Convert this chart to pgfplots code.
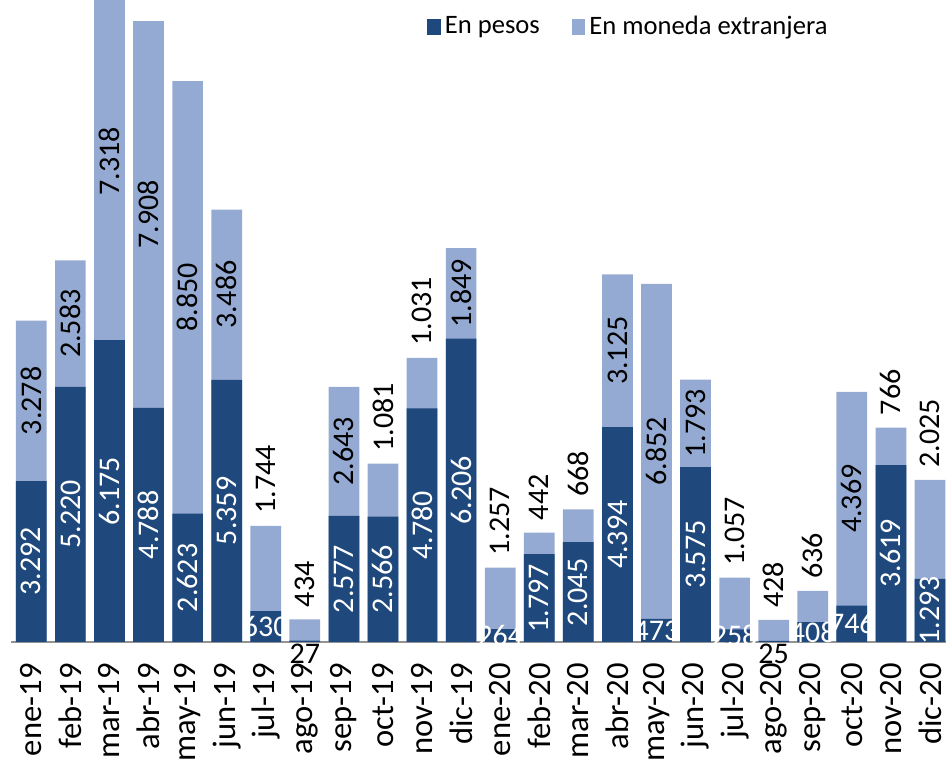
\documentclass[border=0pt]{standalone}
\usepackage{fontspec}
\setmainfont{Carlito}
\usepackage{pgfplots}
\usepackage{pgfplotstable}
\pgfplotsset{compat=1.18}
\definecolor{pesos}{RGB}{31,73,125}
\definecolor{extr}{RGB}{149,170,211}

\pgfplotsset{
  lbl/.style={forget plot, only marks, mark=*, mark size=0pt,
    mark options={draw=none, fill=none},
    point meta=explicit symbolic, nodes near coords},
}

\pgfplotstableread{
x pesos ext mes
0 3292 3278 ene-19
1 5220 2583 feb-19
2 6175 7318 mar-19
3 4788 7908 abr-19
4 2623 8850 may-19
5 5359 3486 jun-19
6 630 1744 jul-19
7 27 434 ago-19
8 2577 2643 sep-19
9 2566 1081 oct-19
10 4780 1031 nov-19
11 6206 1849 dic-19
12 264 1257 ene-20
13 1797 442 feb-20
14 2045 668 mar-20
15 4394 3125 abr-20
16 473 6852 may-20
17 3575 1793 jun-20
18 258 1057 jul-20
19 25 428 ago-20
20 408 636 sep-20
21 746 4369 oct-20
22 3619 766 nov-20
23 1293 2025 dic-20
}\datatable

% label groups
\pgfplotstableread{
x pesos lab
0 3292 3.292
1 5220 5.220
2 6175 6.175
3 4788 4.788
4 2623 2.623
5 5359 5.359
8 2577 2.577
9 2566 2.566
10 4780 4.780
11 6206 6.206
13 1797 1.797
14 2045 2.045
15 4394 4.394
17 3575 3.575
22 3619 3.619
23 1293 1.293
}\pesosrot
\pgfplotstableread{
x pesos lab
6 630 630
12 264 264
16 473 473
18 258 258
20 408 408
21 746 746
}\pesoshor
\pgfplotstableread{
x pesos lab
7 27 27
19 25 25
}\pesosbelow
\pgfplotstableread{
x pesos ext lab
0 3292 3278 3.278
1 5220 2583 2.583
2 6175 7318 7.318
3 4788 7908 7.908
4 2623 8850 8.850
5 5359 3486 3.486
8 2577 2643 2.643
11 6206 1849 1.849
15 4394 3125 3.125
16 473 6852 6.852
17 3575 1793 1.793
21 746 4369 4.369
}\extin
\pgfplotstableread{
x pesos ext lab
6 630 1744 1.744
7 27 434 434
9 2566 1081 1.081
10 4780 1031 1.031
12 264 1257 1.257
13 1797 442 442
14 2045 668 668
18 258 1057 1.057
19 25 428 428
20 408 636 636
22 3619 766 766
23 1293 2025 2.025
}\extabove

\newcommand{\lblfont}{\fontsize{15}{18}\selectfont}

\begin{document}
\begin{tikzpicture}
\path[use as bounding box] (-5.5pt,-61pt) rectangle (470.5pt,321pt);
\begin{axis}[
  at={(0,0)}, anchor=south west,
  scale only axis, width=467.5pt, height=321pt,
  xmin=-0.52, xmax=23.41, ymin=0, ymax=13130,
  axis x line*=bottom, axis y line=none,
  x axis line style={-, draw=gray!85, line width=0.7pt},
  xtick=\empty,
  major tick length=0pt,
  clip=false,
  legend columns=2,
  legend style={draw=none, fill=none, at={(0.878,0.958)}, anchor=east,
    font=\fontsize{13.3}{15}\selectfont, inner sep=0pt,
    /tikz/every even column/.append style={column sep=14pt}},
  legend image code/.code={\fill[#1] (-1pt,-3.8pt) rectangle (5.8pt,4.2pt);},
]
% total bars (light) then pesos bars (dark) on top
\addplot[forget plot, ybar, bar shift=0pt, bar width=0.786, fill=extr, draw=none]
  table[x=x, y expr=\thisrow{pesos}+\thisrow{ext}] {\datatable};
\addplot[forget plot, ybar, bar shift=0pt, bar width=0.786, fill=pesos, draw=none]
  table[x=x, y=pesos] {\datatable};
\addlegendimage{fill=pesos, draw=none}
\addlegendentry{En pesos}
\addlegendimage{fill=extr, draw=none}
\addlegendentry{En moneda extranjera}

% category labels under the axis (placed at a fixed depth below the baseline)
\addplot[lbl,
  every node near coord/.append style={rotate=90, anchor=east, font=\fontsize{16.3}{18}\selectfont,
    text=black, inner sep=0pt}]
  table[x=x, y expr=-430, meta=mes] {\datatable};

% pesos labels: rotated, centred
\addplot[lbl,
  every node near coord/.append style={rotate=90, anchor=center, font=\lblfont, text=white}]
  table[x=x, y expr=\thisrow{pesos}/2, meta=lab] {\pesosrot};
% pesos labels: horizontal, centred
\addplot[lbl,
  every node near coord/.append style={anchor=center, font=\lblfont, text=white, inner sep=0pt}]
  table[x=x, y expr=\thisrow{pesos}/2, meta=lab] {\pesoshor};
% pesos labels: below axis
\addplot[lbl,
  every node near coord/.append style={anchor=north, font=\lblfont, text=black, inner sep=1pt}]
  table[x=x, y expr=0, meta=lab] {\pesosbelow};
% foreign labels: rotated, centred
\addplot[lbl,
  every node near coord/.append style={rotate=90, anchor=center, font=\lblfont, text=black}]
  table[x=x, y expr=\thisrow{pesos}+\thisrow{ext}/2, meta=lab] {\extin};
% foreign labels: rotated, above bar
\addplot[lbl,
  every node near coord/.append style={rotate=90, anchor=west, font=\lblfont, text=black, inner xsep=6pt}]
  table[x=x, y expr=\thisrow{pesos}+\thisrow{ext}, meta=lab] {\extabove};
\end{axis}
\end{tikzpicture}
\end{document}
